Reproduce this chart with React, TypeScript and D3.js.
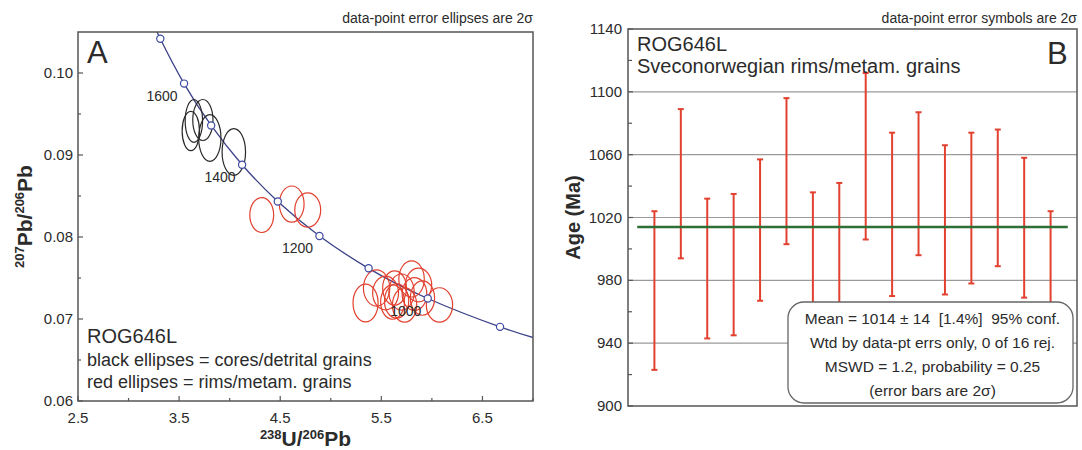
import React from 'react';
import * as d3 from 'd3';

// ---------- Panel A data (Tera-Wasserburg concordia) ----------
const concordiaAges = [850, 900, 1000, 1100, 1200, 1300, 1400, 1500, 1600, 1700, 1750];
const concordiaX = [7.095, 6.674, 5.959, 5.374, 4.888, 4.476, 4.123, 3.817, 3.549, 3.314, 3.206];
const concordiaY = [0.0674, 0.06904, 0.0725, 0.07618, 0.08013, 0.08433, 0.08881, 0.0936, 0.09871, 0.10418, 0.10707];
const markerAges = [900, 1000, 1100, 1200, 1300, 1400, 1500, 1600, 1700];
const labelledAges = [1000, 1200, 1400, 1600];

const blackX = [3.616, 3.646, 3.735, 3.804, 4.041];
const blackY = [0.09293, 0.09415, 0.09427, 0.09207, 0.09037];
const blackSx = [0.086, 0.086, 0.1, 0.11, 0.116];
const blackSy = [0.0024, 0.0026, 0.0025, 0.00285, 0.00285];

const redX = [4.317, 4.614, 4.772, 5.344, 5.453, 5.542, 5.631, 5.651, 5.7, 5.799, 5.868, 5.907, 6.075, 5.73, 5.828, 5.611];
const redY = [0.08268, 0.08402, 0.08329, 0.07195, 0.07378, 0.07317, 0.07378, 0.0722, 0.07329, 0.07488, 0.07415, 0.07256, 0.07171, 0.07171, 0.07305, 0.07207];
const redSx = [0.118, 0.122, 0.128, 0.124, 0.13, 0.128, 0.118, 0.12, 0.125, 0.126, 0.13, 0.12, 0.13, 0.12, 0.122, 0.118];
const redSy = [0.00213, 0.0022, 0.0021, 0.0023, 0.0022, 0.00205, 0.0021, 0.0021, 0.0022, 0.0022, 0.00205, 0.0021, 0.0021, 0.0021, 0.002, 0.0021];

const xTicksA = [2.5, 3.5, 4.5, 5.5, 6.5];
const xMinorA = [3, 4, 5, 6, 7];
const yTicksA = [0.06, 0.07, 0.08, 0.09, 0.1];
const yMinorA = [0.065, 0.075, 0.085, 0.095];

// ---------- Panel B data (weighted mean ages) ----------
const ageHigh = [1024, 1089, 1032, 1035, 1057, 1096, 1036, 1042, 1112, 1074, 1087, 1066, 1074, 1076, 1058, 1024];
const ageLow = [923, 994, 943, 945, 967, 1003, 948, 952, 1006, 970, 996, 971, 978, 989, 969, 962];
const weightedMean = 1014;
const yTicksB = [900, 940, 980, 1020, 1060, 1100, 1140];
const yGridB = [940, 980, 1020, 1060, 1100];
const yMinorB = [920, 960, 1000, 1040, 1080, 1120];
const boxLines = [
  'Mean = 1014 \u00b1 14  [1.4%]  95% conf.',
  'Wtd by data-pt errs only, 0 of 16 rej.',
  'MSWD = 1.2, probability = 0.25',
  '(error bars are 2\u03c3)',
];

const FONT = '"Liberation Sans", Arial, Helvetica, sans-serif';
const TXT = '#2b2b2b';
const RED = '#e2412f';

export default function App() {
  // Panel A geometry
  const A = { l: 78, r: 533, t: 32, b: 401 };
  const xA = d3.scaleLinear().domain([2.5, 7.0]).range([A.l, A.r]);
  const yA = d3.scaleLinear().domain([0.06, 0.105]).range([A.b, A.t]);
  const concPts: [number, number][] = concordiaX.map((x, i) => [x, concordiaY[i]]);
  const concLine = d3
    .line<[number, number]>()
    .x((d) => xA(d[0]))
    .y((d) => yA(d[1]))
    .curve(d3.curveNatural)(concPts) as string;
  const ageIdx = (age: number) => concordiaAges.indexOf(age);

  // Panel B geometry
  const B = { l: 628, r: 1077, t: 29, b: 406 };
  const xB = d3.scaleLinear().domain([0, 17]).range([B.l, B.r]);
  const yB = d3.scaleLinear().domain([900, 1140]).range([B.b, B.t]);
  const box = { x: 788, y: 302, w: 285, h: 101 };
  const boxCx = box.x + box.w / 2 + 2;

  return (
    <svg
      width={1082}
      height={450}
      style={{ position: 'absolute', left: 0, top: 0, background: '#fff' }}
      fontFamily={FONT}
    >
      <defs>
        <clipPath id="clipA">
          <rect x={A.l} y={A.t} width={A.r - A.l} height={A.b - A.t} />
        </clipPath>
      </defs>
      <rect x={0} y={0} width={1082} height={450} fill="#fff" />

      {/* ================= Panel A ================= */}
      <text x={A.r} y={23} textAnchor="end" fontSize={14} fill={TXT}>
        data-point error ellipses are 2σ
      </text>

      <g clipPath="url(#clipA)">
        <path d={concLine} fill="none" stroke="#3b4188" strokeWidth={1.3} />
        {blackX.map((x, i) => (
          <ellipse
            key={'bk' + i}
            cx={xA(x)}
            cy={yA(blackY[i])}
            rx={xA(x + blackSx[i]) - xA(x)}
            ry={yA(blackY[i]) - yA(blackY[i] + blackSy[i])}
            fill="none"
            stroke="#2a2a2a"
            strokeWidth={1.2}
          />
        ))}
        {redX.map((x, i) => (
          <ellipse
            key={'rd' + i}
            cx={xA(x)}
            cy={yA(redY[i])}
            rx={xA(x + redSx[i]) - xA(x)}
            ry={yA(redY[i]) - yA(redY[i] + redSy[i])}
            fill="none"
            stroke={RED}
            strokeWidth={1.2}
          />
        ))}
        {markerAges.map((age) => {
          const i = ageIdx(age);
          return (
            <circle
              key={'mk' + age}
              cx={xA(concordiaX[i])}
              cy={yA(concordiaY[i])}
              r={3.6}
              fill="#fff"
              stroke="#3d4aa0"
              strokeWidth={1.2}
            />
          );
        })}
      </g>
      {labelledAges.map((age) => {
        const i = ageIdx(age);
        return (
          <text
            key={'lb' + age}
            x={xA(concordiaX[i]) - 22}
            y={yA(concordiaY[i]) + 17}
            textAnchor="middle"
            fontSize={14}
            fill={TXT}
          >
            {age}
          </text>
        );
      })}

      {/* frame & ticks A */}
      <rect x={A.l} y={A.t} width={A.r - A.l} height={A.b - A.t} fill="none" stroke="#555" strokeWidth={1.5} />
      {xTicksA.map((t) => (
        <g key={'xa' + t}>
          <line x1={xA(t)} x2={xA(t)} y1={A.b} y2={A.b - 5} stroke="#555" strokeWidth={1.2} />
          <text x={xA(t)} y={A.b + 22} textAnchor="middle" fontSize={15} fill={TXT}>
            {t.toFixed(1)}
          </text>
        </g>
      ))}
      {xMinorA.map((t) => (
        <line key={'xam' + t} x1={xA(t)} x2={xA(t)} y1={A.b} y2={A.b - 3} stroke="#555" strokeWidth={1.2} />
      ))}
      {yTicksA.map((t) => (
        <g key={'ya' + t}>
          <line x1={A.l} x2={A.l + 5} y1={yA(t)} y2={yA(t)} stroke="#555" strokeWidth={1.2} />
          <text x={A.l - 5} y={yA(t) + 5} textAnchor="end" fontSize={15} fill={TXT}>
            {t.toFixed(2)}
          </text>
        </g>
      ))}
      {yMinorA.map((t) => (
        <line key={'yam' + t} x1={A.l} x2={A.l + 3} y1={yA(t)} y2={yA(t)} stroke="#555" strokeWidth={1.2} />
      ))}

      {/* axis titles A */}
      <text x={(A.l + A.r) / 2} y={446} textAnchor="middle" fontWeight="bold" fontSize={21} fill={TXT}>
        <tspan fontSize={13} dy={-7}>238</tspan>
        <tspan dy={7}>U/</tspan>
        <tspan fontSize={13} dy={-7}>206</tspan>
        <tspan dy={7}>Pb</tspan>
      </text>
      <text
        transform={`translate(32, ${(A.t + A.b) / 2}) rotate(-90)`}
        textAnchor="middle"
        fontWeight="bold"
        fontSize={21}
        fill={TXT}
      >
        <tspan fontSize={13} dy={-8}>207</tspan>
        <tspan dy={8}>Pb/</tspan>
        <tspan fontSize={13} dy={-8}>206</tspan>
        <tspan dy={8}>Pb</tspan>
      </text>

      <text x={87} y={63} fontSize={31} fill={TXT}>A</text>
      <text x={87} y={343} fontSize={20} fill={TXT}>ROG646L</text>
      <text x={87} y={366} fontSize={18} fill={TXT}>black ellipses = cores/detrital grains</text>
      <text x={87} y={388} fontSize={18} fill={TXT}>red ellipses = rims/metam. grains</text>

      {/* ================= Panel B ================= */}
      <text x={B.r} y={23} textAnchor="end" fontSize={14} fill={TXT}>
        data-point error symbols are 2σ
      </text>
      {yGridB.map((t) => (
        <line key={'gb' + t} x1={B.l} x2={B.r} y1={yB(t)} y2={yB(t)} stroke="#9a9a9a" strokeWidth={1.2} />
      ))}
      {ageHigh.map((hi, i) => {
        const cx = xB(i + 1);
        return (
          <g key={'bar' + i}>
            <line x1={cx} x2={cx} y1={yB(hi)} y2={yB(ageLow[i])} stroke={RED} strokeWidth={2} />
            <line x1={cx - 3} x2={cx + 3} y1={yB(hi)} y2={yB(hi)} stroke={RED} strokeWidth={2} />
            <line x1={cx - 3} x2={cx + 3} y1={yB(ageLow[i])} y2={yB(ageLow[i])} stroke={RED} strokeWidth={2} />
          </g>
        );
      })}
      <line
        x1={xB(0.35)}
        x2={xB(16.65)}
        y1={yB(weightedMean)}
        y2={yB(weightedMean)}
        stroke="#2f6e35"
        strokeWidth={2.5}
      />
      <rect x={B.l} y={B.t} width={B.r - B.l} height={B.b - B.t} fill="none" stroke="#555" strokeWidth={1.5} />
      {yTicksB.map((t) => (
        <g key={'yb' + t}>
          <line x1={B.l} x2={B.l + 5} y1={yB(t)} y2={yB(t)} stroke="#555" strokeWidth={1.2} />
          <text x={B.l - 6} y={yB(t) + 5} textAnchor="end" fontSize={15} fill={TXT}>
            {t}
          </text>
        </g>
      ))}
      {yMinorB.map((t) => (
        <line key={'ybm' + t} x1={B.l} x2={B.l + 4} y1={yB(t)} y2={yB(t)} stroke="#555" strokeWidth={1.2} />
      ))}
      <text
        transform={`translate(580, ${(B.t + B.b) / 2}) rotate(-90)`}
        textAnchor="middle"
        fontWeight="bold"
        fontSize={20}
        fill={TXT}
      >
        Age (Ma)
      </text>
      <text x={637} y={51} fontSize={20} fill={TXT}>ROG646L</text>
      <text x={637} y={73} fontSize={20} fill={TXT}>Sveconorwegian rims/metam. grains</text>
      <text x={1047} y={64} fontSize={31} fill={TXT}>B</text>

      <rect x={box.x} y={box.y} width={box.w} height={box.h} rx={16} ry={16} fill="#fff" stroke="#666" strokeWidth={1.3} />
      {boxLines.map((s, i) => (
        <text
          key={'bx' + i}
          x={boxCx}
          y={box.y + 22 + i * 24}
          textAnchor="middle"
          fontSize={15.5}
          fill={TXT}
          xmlSpace="preserve"
          style={{ whiteSpace: 'pre' }}
        >
          {s}
        </text>
      ))}
    </svg>
  );
}
